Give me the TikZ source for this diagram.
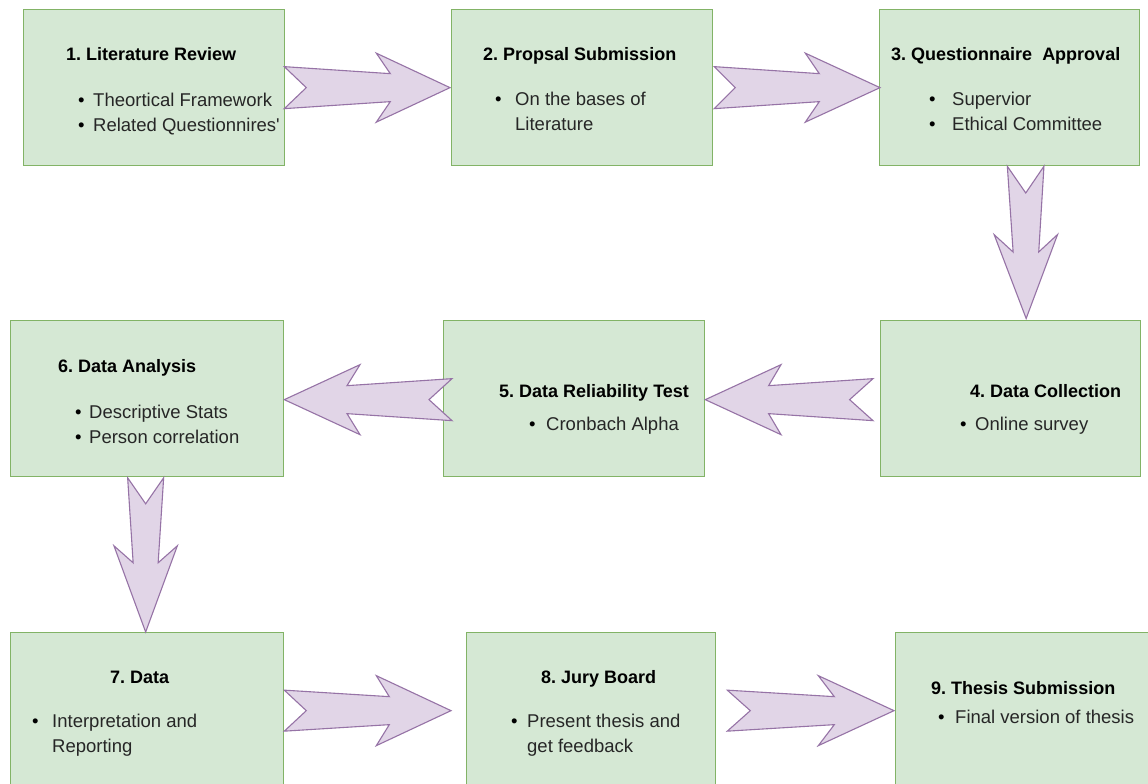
\documentclass[tikz,border=0pt]{standalone}
\usepackage{fontspec}
\setmainfont{Liberation Sans}[Ligatures=TeXOff]
\usetikzlibrary{calc}
\definecolor{boxfill}{HTML}{D5E8D4}
\definecolor{boxline}{HTML}{82B366}
\definecolor{arrfill}{HTML}{E1D5E7}
\definecolor{arrline}{HTML}{9673A6}
\frenchspacing
% #1 tail, #2 tip, #3 notch depth, #4 wing position, #5 shaft end, #6 tail half width, #7 shaft half width, #8 wing half width
\newcommand\blockarrow[8]{%
  \draw[barrow] ($(#1)!#6!90:(#2)$) -- ($(#1)!#3!(#2)$) -- ($(#1)!#6!-90:(#2)$)
    -- ($(#1)!#5!(#2)!#7!-90:(#2)$) -- ($(#1)!#4!(#2)!#8!-90:(#2)$) -- (#2)
    -- ($(#1)!#4!(#2)!#8!90:(#2)$) -- ($(#1)!#5!(#2)!#7!90:(#2)$) -- cycle;}
\begin{document}
\begin{tikzpicture}[x=1pt,y=-1pt,
  box/.style={draw=boxline,fill=boxfill,line width=1.3pt,anchor=north west,inner sep=0pt,
    minimum height=156pt},
  barrow/.style={draw=arrline,fill=arrfill,line width=1.1pt,line join=miter},
  ttl/.style={anchor=base west,inner sep=0pt,font=\fontsize{18}{22}\selectfont\bfseries,text=black},
  txt/.style={anchor=base west,inner sep=0pt,font=\fontsize{18.5}{22}\selectfont,text=black!85},
  dot/.style={anchor=base west,inner sep=0pt,font=\fontsize{18.5}{22}\selectfont,text=black}]
\useasboundingbox (0,0) rectangle (1148,784);
\fill[white] (0,0) rectangle (1148,784);
\clip (0,0) rectangle (1148,784);
% boxes
\node[box,minimum width=261pt] (b1) at (23,9) {};
\node[box,minimum width=261pt] (b2) at (451,9) {};
\node[box,minimum width=260pt] (b3) at (879,9) {};
\node[box,minimum width=273pt] (b6) at (10,320) {};
\node[box,minimum width=261pt] (b5) at (443,320) {};
\node[box,minimum width=260pt] (b4) at (880,320) {};
\node[box,minimum width=273pt] (b7) at (10,632) {};
\node[box,minimum width=249pt] (b8) at (466,632) {};
\node[box,minimum width=261pt] (b9) at (895,632) {};
% arrow end points
\coordinate (a1s) at ($(b1.east)+(-1,0)$);  \coordinate (a1e) at ($(b2.west)+(-1,0)$);
\coordinate (a2s) at ($(b2.east)+(1,0)$);   \coordinate (a2e) at ($(b3.west)+(1,0)$);
\coordinate (a3s) at ($(b3.south)+(16,0)$); \coordinate (a3e) at ($(b4.north)+(15.5,-1.5)$);
\coordinate (a4s) at ($(b4.west)+(-7,1)$);  \coordinate (a4e) at ($(b5.east)+(0,1)$);
\coordinate (a5s) at ($(b5.west)+(9,1)$);   \coordinate (a5e) at ($(b6.east)+(0,1)$);
\coordinate (a6s) at ($(b6.south)+(-1.5,0.5)$); \coordinate (a6e) at ($(b7.north)+(-1.5,0)$);
\coordinate (a7s) at ($(b7.east)+(0,0)$);   \coordinate (a7e) at ($(b8.west)+(-15,0)$);
\coordinate (a8s) at ($(b8.east)+(11,0)$);  \coordinate (a8e) at ($(b9.west)+(-1,0)$);
\blockarrow{a1s}{a1e}{22pt}{92pt}{106pt}{21pt}{14pt}{34.5pt}
\blockarrow{a2s}{a2e}{21pt}{91pt}{105pt}{21pt}{14pt}{34.5pt}
\blockarrow{a3s}{a3e}{26.7pt}{68.3pt}{85.7pt}{18.3pt}{12.8pt}{31.7pt}
\blockarrow{a4s}{a4e}{23.4pt}{92pt}{104.4pt}{21pt}{14pt}{35pt}
\blockarrow{a5s}{a5e}{23pt}{92pt}{105pt}{21pt}{14pt}{35pt}
\blockarrow{a6s}{a6e}{26pt}{68pt}{85pt}{18pt}{12.5pt}{31.7pt}
\blockarrow{a7s}{a7e}{22pt}{92pt}{105pt}{20.5pt}{14pt}{35pt}
\blockarrow{a8s}{a8e}{23pt}{91pt}{107pt}{20.5pt}{14pt}{35pt}
% box 1
\node[ttl] (t1) at (66,60) {1. Literature Review};
\node[dot] (d1a) at (77.8,106) {•}; \node[txt] (t1a) at (93,106) {Theortical Framework};
\node[dot] (d1b) at (77.8,131) {•}; \node[txt] (t1b) at (93,131) {Related Questionnires'};
% box 2
\node[ttl] (t2) at (483,61) {2. Propsal Submission};
\node[dot] (d2a) at (494.8,105) {•}; \node[txt] (t2a) at (515,105) {On the bases of};
\node[txt] (t2b) at (515,130) {Literature};
% box 3
\node[ttl] (t3) at (891,60) {3. Questionnaire~ Approval};
\node[dot] (d3a) at (928.8,105) {•}; \node[txt] (t3a) at (952,105) {Supervior};
\node[dot] (d3b) at (928.8,130) {•}; \node[txt] (t3b) at (952,130) {Ethical Committee};
% box 6
\node[ttl] (t6) at (58,372) {6. Data Analysis};
\node[dot] (d6a) at (74.8,418) {•}; \node[txt] (t6a) at (89,418) {Descriptive Stats};
\node[dot] (d6b) at (74.8,443) {•}; \node[txt] (t6b) at (89,443) {Person correlation};
% box 5
\node[ttl] (t5) at (499,397) {5. Data Reliability Test};
\node[dot] (d5a) at (528.8,430) {•}; \node[txt] (t5a) at (546,430) {Cronbach Alpha};
% box 4
\node[ttl] (t4) at (970,397) {4. Data Collection};
\node[dot] (d4a) at (959.8,430) {•}; \node[txt] (t4a) at (975,430) {Online survey};
% box 7
\node[ttl] (t7) at (110,683) {7. Data};
\node[dot] (d7a) at (31.8,727) {•}; \node[txt] (t7a) at (52,727) {Interpretation and};
\node[txt] (t7b) at (52,752) {Reporting};
% box 8
\node[ttl] (t8) at (541,683) {8. Jury Board};
\node[dot] (d8a) at (510.8,727) {•}; \node[txt] (t8a) at (527,727) {Present thesis and};
\node[txt] (t8b) at (527,752) {get feedback};
% box 9
\node[ttl] (t9) at (931,694) {9. Thesis Submission};
\node[dot] (d9a) at (937.8,723) {•}; \node[txt] (t9a) at (955,723) {Final version of thesis};
\end{tikzpicture}
\end{document}
